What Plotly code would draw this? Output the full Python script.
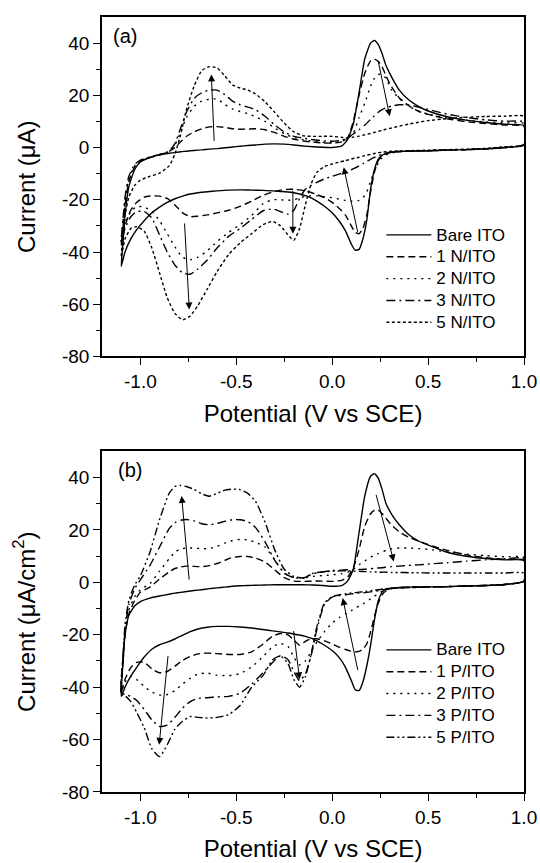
import plotly.graph_objects as go

# ---------------- data ----------------
# potential grid, forward (upper) branch and reverse (lower) branch, V vs SCE
E_UP = [-1.10, -1.09, -1.08, -1.06, -1.03, -1.00, -0.95, -0.90, -0.85, -0.82,
        -0.79, -0.76, -0.72, -0.68, -0.64, -0.60, -0.56, -0.52, -0.48, -0.44,
        -0.40, -0.35, -0.30, -0.25, -0.20, -0.15, -0.10, -0.05, 0.00, 0.05,
        0.08, 0.11, 0.14, 0.17, 0.20, 0.22, 0.24, 0.26, 0.28, 0.31,
        0.35, 0.40, 0.45, 0.50, 0.60, 0.70, 0.80, 0.90, 1.00]
E_DOWN = [1.00, 0.90, 0.80, 0.70, 0.60, 0.50, 0.40, 0.35, 0.31, 0.28,
          0.26, 0.24, 0.22, 0.20, 0.18, 0.16, 0.14, 0.12, 0.10, 0.07,
          0.04, 0.00, -0.04, -0.08, -0.11, -0.14, -0.17, -0.20, -0.23, -0.27,
          -0.31, -0.36, -0.42, -0.48, -0.54, -0.60, -0.65, -0.70, -0.74, -0.78,
          -0.82, -0.86, -0.90, -0.94, -0.98, -1.02, -1.05, -1.08, -1.10]

# ---- panel (a): current in uA ----
a_bare_up = [-45.5, -36, -26, -15, -8.5, -5.5, -3.8, -2.8, -2.2, -1.9,
             -1.6, -1.4, -1.1, -0.9, -0.6, -0.4, -0.1, 0.2, 0.5, 0.8,
             1.0, 1.3, 1.4, 1.3, 1.0, 0.6, 0.3, 0.1, 0.0, 0.6,
             3.0, 9.0, 21.0, 34.0, 40.0, 41.0, 39.5, 36.0, 31.5, 27.0,
             22.0, 18.2, 15.8, 14.0, 11.8, 10.5, 9.6, 8.9, 8.4]
a_bare_down = [1.0, 0.0, -0.5, -0.8, -1.0, -1.2, -1.4, -1.5, -1.7, -2.2,
               -3.0, -4.5, -8.5, -16.0, -28.0, -35.0, -39.0, -39.3, -37.0, -32.0,
               -28.5, -25.0, -22.5, -20.5, -19.3, -18.4, -17.8, -17.3, -17.0, -16.8,
               -16.6, -16.4, -16.3, -16.2, -16.3, -16.6, -16.9, -17.3, -17.8, -18.6,
               -19.6, -21.0, -22.8, -25.0, -28.0, -31.5, -35.0, -40.0, -45.5]

a_1n_up = [-38, -30, -22, -13, -7.5, -5.2, -3.8, -2.8, -1.5, 0.0,
           2.2, 4.3, 6.0, 7.2, 7.9, 8.0, 7.7, 7.2, 7.0, 7.1,
           7.2, 6.8, 5.8, 4.3, 3.2, 2.5, 2.1, 1.8, 1.7, 2.2,
           3.6, 10.0, 20.0, 28.5, 33.2, 33.9, 33.0, 31.0, 27.5, 23.2,
           19.0, 16.0, 13.9, 12.7, 11.0, 9.9, 9.2, 8.6, 8.2]
a_1n_down = [1.0, 0.0, -0.5, -0.8, -1.0, -1.2, -1.4, -1.5, -1.8, -2.3,
             -3.2, -5.0, -9.5, -17.0, -26.0, -31.0, -33.0, -32.5, -30.0, -26.0,
             -23.5, -21.0, -19.2, -18.0, -17.2, -16.6, -16.2, -16.0, -16.0, -16.3,
             -17.0, -18.3, -20.5, -22.5, -24.0, -25.0, -25.8, -26.3, -26.5, -25.0,
             -22.0, -19.5, -18.6, -18.5, -19.0, -21.0, -24.0, -30.0, -38.0]

a_2n_up = [-36, -28, -20, -12, -7, -5.0, -3.8, -2.8, -1.5, 1.0,
           6.0, 11.5, 15.8, 17.8, 18.5, 18.6, 16.5, 14.8, 13.8, 13.0,
           11.8, 10.0, 7.5, 5.3, 3.8, 3.0, 2.4, 2.0, 1.9, 2.4,
           3.4, 5.5, 11.5, 17.0, 23.5, 26.5, 28.0, 28.0, 26.5, 22.0,
           18.8, 15.8, 14.0, 12.8, 11.3, 10.4, 9.8, 9.4, 9.2]
a_2n_down = [1.0, 0.0, -0.5, -0.8, -1.0, -1.2, -1.4, -1.6, -2.0, -2.8,
             -4.0, -6.0, -9.0, -13.0, -17.0, -19.3, -20.2, -20.5, -20.5, -20.3,
             -19.8, -19.2, -18.8, -18.5, -18.5, -18.7, -19.3, -20.0, -20.2, -20.0,
             -20.0, -21.5, -26.0, -29.5, -32.5, -36.0, -39.5, -42.0, -43.0, -42.0,
             -38.0, -33.0, -28.0, -24.5, -22.8, -22.6, -24.5, -29.0, -36.0]

a_3n_up = [-36, -27, -19, -11, -6.5, -4.8, -3.6, -2.6, -1.4, 1.5,
           7.5, 13.5, 18.8, 21.0, 22.0, 22.0, 20.3, 17.8, 16.4, 15.5,
           14.5, 12.0, 8.7, 6.0, 4.3, 3.6, 3.0, 2.6, 2.4, 2.8,
           3.8, 5.2, 6.8, 8.6, 10.8, 12.2, 13.5, 14.5, 15.2, 15.9,
           16.4, 16.3, 15.5, 14.6, 12.8, 11.5, 10.6, 10.1, 9.8]
a_3n_down = [1.0, 0.0, -0.5, -0.8, -1.0, -1.2, -1.4, -1.5, -1.8, -2.2,
             -2.6, -3.2, -3.8, -4.5, -5.3, -6.2, -7.0, -7.8, -8.5, -9.4,
             -10.1, -11.0, -12.0, -13.3, -14.5, -16.0, -19.5, -24.0, -25.5, -24.5,
             -23.5, -24.2, -27.5, -31.0, -34.0, -38.5, -43.0, -46.5, -48.5, -48.0,
             -45.0, -40.0, -33.5, -27.0, -24.5, -24.5, -26.5, -31.0, -36.0]

a_5n_up = [-42, -33, -26, -19, -14.5, -12.5, -11.0, -9.8, -7.0, -2.5,
           5.0, 14.5, 23.5, 29.5, 31.0, 30.5, 27.5, 24.0, 22.8, 22.0,
           20.5, 17.5, 13.5, 9.4, 6.0, 4.5, 4.3, 4.3, 4.3, 3.9,
           3.8, 4.0, 4.4, 4.9, 5.4, 5.8, 6.2, 6.6, 7.0, 7.5,
           8.2, 9.0, 9.7, 10.3, 11.1, 11.6, 11.9, 12.0, 12.0]
a_5n_down = [1.2, 0.3, -0.3, -0.6, -0.8, -1.0, -1.2, -1.3, -1.4, -1.6,
             -1.8, -2.0, -2.3, -2.6, -2.9, -3.3, -3.7, -4.0, -4.4, -5.0,
             -5.5, -6.3, -7.3, -9.5, -14.0, -22.0, -31.0, -35.5, -33.5, -30.0,
             -28.3, -29.5, -33.0, -36.5, -41.0, -47.5, -54.0, -60.5, -64.5, -66.0,
             -63.5, -57.5, -48.0, -38.5, -32.0, -30.3, -31.0, -35.0, -42.0]

# ---- panel (b): current density in uA/cm2 ----
b_bare_up = [-43.5, -30, -20, -12.5, -9.0, -7.3, -6.0, -5.2, -4.5, -4.1,
             -3.8, -3.5, -3.1, -2.8, -2.4, -2.1, -1.8, -1.5, -1.3, -1.2,
             -1.1, -1.0, -0.9, -0.9, -0.9, -0.9, -1.0, -1.2, -1.5, -1.2,
             0.5, 5.0, 19.0, 33.0, 40.5, 41.5, 39.8, 35.5, 30.2, 26.0,
             22.0, 18.2, 15.8, 14.3, 11.5, 10.0, 9.1, 8.6, 8.4]
b_bare_down = [0.5, -0.8, -1.2, -1.4, -1.6, -1.7, -1.8, -1.9, -2.1, -2.6,
               -3.8, -7.0, -14.5, -24.0, -32.0, -38.0, -41.3, -41.0, -37.5, -32.5,
               -29.0, -26.0, -24.0, -22.3, -21.3, -20.6, -20.1, -19.7, -19.3, -18.9,
               -18.5, -18.0, -17.4, -17.0, -16.8, -16.8, -17.1, -17.8, -18.8, -20.2,
               -21.6, -22.8, -23.8, -25.5, -28.5, -32.5, -35.8, -40.0, -43.5]

b_1p_up = [-42, -30, -20, -12, -7.0, -3.8, -1.8, 1.3, 4.0, 5.3,
           5.9, 6.2, 6.1, 6.0, 6.4, 7.2, 8.4, 9.5, 9.9, 9.9,
           9.3, 7.8, 4.8, 1.8, 0.5, 0.4, 0.5, 0.5, 0.4, 0.8,
           2.0, 5.5, 12.5, 21.5, 26.2, 27.5, 27.6, 26.3, 24.5, 21.8,
           19.3, 17.2, 15.8, 14.4, 12.2, 10.5, 9.4, 8.8, 8.5]
b_1p_down = [0.5, -0.8, -1.2, -1.4, -1.6, -1.7, -1.8, -2.0, -2.4, -3.3,
             -4.8, -8.0, -13.0, -19.0, -23.5, -25.5, -26.3, -26.5, -26.3, -25.6,
             -24.8, -23.5, -22.3, -21.5, -21.5, -22.5, -24.0, -22.0, -20.0, -19.5,
             -20.5, -23.5, -26.5, -27.5, -27.5, -27.2, -27.0, -27.3, -28.3, -29.8,
             -32.0, -34.0, -34.5, -33.0, -30.5, -30.5, -32.5, -37.0, -42.0]

b_2p_up = [-42, -29, -19, -10.5, -5.5, -2.8, -0.5, 4.3, 9.0, 11.5,
           12.8, 13.1, 13.1, 12.9, 12.9, 13.8, 15.0, 16.0, 16.4, 16.2,
           15.3, 13.5, 8.7, 3.6, 1.9, 1.7, 2.3, 2.6, 2.9, 3.3,
           3.8, 5.0, 6.7, 8.2, 9.6, 10.4, 11.0, 11.6, 12.2, 12.8,
           13.1, 13.1, 12.9, 12.6, 11.6, 10.8, 10.2, 9.8, 9.5]
b_2p_down = [0.5, -0.8, -1.2, -1.4, -1.6, -1.7, -1.8, -2.0, -2.3, -2.8,
             -3.4, -4.3, -5.3, -6.3, -7.3, -8.2, -9.0, -9.8, -10.8, -12.0,
             -13.3, -15.5, -18.8, -22.8, -26.5, -30.0, -31.5, -28.5, -24.5, -23.3,
             -24.5, -28.3, -32.3, -34.8, -35.6, -35.4, -34.6, -35.0, -36.6, -38.8,
             -41.3, -42.8, -43.0, -41.8, -39.8, -37.0, -36.0, -38.0, -42.0]

b_3p_up = [-42, -28, -18, -8.5, -2.5, 1.0, 6.5, 13.5, 20.5, 22.8,
           23.7, 24.0, 23.5, 22.4, 22.0, 22.5, 23.3, 23.9, 23.9, 23.2,
           21.0, 15.5, 8.5, 3.5, 1.8, 1.7, 3.3, 4.0, 4.5, 4.7,
           4.8, 4.8, 4.9, 5.0, 5.2, 5.4, 5.5, 5.6, 5.8, 6.0,
           6.2, 6.5, 6.7, 7.0, 7.5, 8.1, 8.6, 9.0, 9.2]
b_3p_down = [0.5, -0.8, -1.2, -1.4, -1.6, -1.8, -2.0, -2.1, -2.3, -2.6,
             -2.9, -3.2, -3.4, -3.6, -3.8, -4.0, -4.1, -4.3, -4.4, -4.7,
             -5.0, -5.6, -8.3, -18.0, -28.0, -35.0, -37.5, -34.0, -29.5, -28.0,
             -30.5, -34.5, -38.8, -42.3, -43.5, -43.7, -44.0, -44.3, -45.5, -48.0,
             -51.5, -54.5, -55.0, -52.5, -48.5, -45.0, -43.5, -42.8, -42.0]

b_5p_up = [-43, -28, -16, -7.0, -1.0, 2.5, 11.5, 24.0, 34.0, 36.6,
           37.0, 36.6, 35.5, 33.8, 32.9, 34.0, 35.2, 35.6, 35.4, 34.0,
           31.0, 23.0, 12.5, 5.0, 2.3, 1.7, 3.5, 4.0, 4.3, 4.4,
           4.4, 4.3, 4.2, 4.1, 4.0, 4.0, 3.9, 3.9, 3.9, 3.8,
           3.8, 3.7, 3.7, 3.6, 3.6, 3.6, 3.6, 3.6, 3.6]
b_5p_down = [0.5, -0.8, -1.2, -1.4, -1.6, -1.8, -2.0, -2.1, -2.2, -2.4,
             -2.6, -2.8, -3.0, -3.2, -3.4, -3.6, -3.7, -3.9, -4.0, -4.3,
             -4.7, -5.5, -7.8, -17.0, -27.5, -36.0, -40.0, -37.0, -31.0, -28.0,
             -29.5, -35.5, -40.0, -47.0, -50.5, -51.5, -51.8, -51.5, -51.2, -53.0,
             -56.0, -62.0, -66.5, -63.5, -55.5, -49.5, -45.5, -43.3, -43.0]

NAMES_A = ["Bare ITO", "1 N/ITO", "2 N/ITO", "3 N/ITO", "5 N/ITO"]
NAMES_B = ["Bare ITO", "1 P/ITO", "2 P/ITO", "3 P/ITO", "5 P/ITO"]

# arrows: (tail E, tail I, head E, head I)
ARROWS_A = [(-0.615, 2.0, -0.63, 28.0), (-0.77, -28.5, -0.745, -62.0),
            (-0.205, -16.0, -0.205, -33.0), (0.135, -33.0, 0.06, -7.5),
            (0.239, 33.5, 0.30, 12.0)]
ARROWS_B = [(-0.745, 0.5, -0.785, 33.0), (-0.855, -27.5, -0.902, -62.0),
            (-0.202, -18.0, -0.17, -37.0), (0.135, -34.0, 0.055, -6.0),
            (0.227, 34.0, 0.321, 8.0)]

XTICKS = [-1.0, -0.5, 0.0, 0.5, 1.0]
XTICKTEXT = ["-1.0", "-0.5", "0.0", "0.5", "1.0"]
YTICKS = [-80, -60, -40, -20, 0, 20, 40]
YTICKTEXT = ["-80", "-60", "-40", "-20", "0", "20", "40"]

# ---------------- figure ----------------
FONT = "Liberation Sans, Arial, Helvetica, sans-serif"
DASHES = ["solid", "7px,4px", "2px,5px", "9px,4px,2px,4px"]
DASH_5N = "3px,2.5px"
DASH_5P = "8px,3px,2px,3px,2px,3px"
LEGEND_TEXT_PX = 17


def legend_label(name):
    return '<span style="font-size:%dpx">%s</span>' % (LEGEND_TEXT_PX, name)


fig = go.Figure()

series_a = [(a_bare_up, a_bare_down), (a_1n_up, a_1n_down), (a_2n_up, a_2n_down),
            (a_3n_up, a_3n_down), (a_5n_up, a_5n_down)]
series_b = [(b_bare_up, b_bare_down), (b_1p_up, b_1p_down), (b_2p_up, b_2p_down),
            (b_3p_up, b_3p_down), (b_5p_up, b_5p_down)]

for i, (up, down) in enumerate(series_a):
    dash = DASHES[i] if i < 4 else DASH_5N
    fig.add_trace(go.Scatter(
        x=E_UP + E_DOWN, y=up + down, mode="lines", name=legend_label(NAMES_A[i]),
        line=dict(color="black", width=1.4, dash=dash, shape="spline", smoothing=0.5),
        xaxis="x", yaxis="y", legend="legend"))

for i, (up, down) in enumerate(series_b):
    dash = DASHES[i] if i < 4 else DASH_5P
    fig.add_trace(go.Scatter(
        x=E_UP + E_DOWN, y=up + down, mode="lines", name=legend_label(NAMES_B[i]),
        line=dict(color="black", width=1.4, dash=dash, shape="spline", smoothing=0.5),
        xaxis="x2", yaxis="y2", legend="legend2"))

annotations = []
for (xr, yr, arrows) in [("x", "y", ARROWS_A), ("x2", "y2", ARROWS_B)]:
    for (tx, ty, hx, hy) in arrows:
        annotations.append(dict(
            x=hx, y=hy, ax=tx, ay=ty, xref=xr, yref=yr, axref=xr, ayref=yr,
            text="", showarrow=True, arrowhead=2, arrowsize=1.4, arrowwidth=1,
            arrowcolor="black"))

annotations.append(dict(text="(a)", x=0.022, y=0.945, xref="x domain", yref="y domain",
                        xanchor="left", yanchor="middle", showarrow=False,
                        font=dict(size=20, color="black", family=FONT)))
annotations.append(dict(text="(b)", x=0.033, y=0.945, xref="x2 domain", yref="y2 domain",
                        xanchor="left", yanchor="middle", showarrow=False,
                        font=dict(size=20, color="black", family=FONT)))


def xaxis_cfg(anchor):
    return dict(
        domain=[0, 1], anchor=anchor, range=[-1.2, 1.0],
        tickmode="array", tickvals=XTICKS, ticktext=XTICKTEXT,
        ticks="outside", ticklen=7, tickwidth=1.3, tickcolor="black",
        minor=dict(tickvals=[-0.75, -0.25, 0.25, 0.75], ticks="outside",
                   ticklen=4, tickwidth=1.3, tickcolor="black"),
        showline=True, linewidth=1.5, linecolor="black", mirror=True,
        showgrid=False, zeroline=False,
        tickfont=dict(size=19, color="black", family=FONT),
        title=dict(text="Potential (V vs SCE)", standoff=14,
                   font=dict(size=24, color="black", family=FONT)))


def yaxis_cfg(anchor, domain, title):
    return dict(
        domain=domain, anchor=anchor, range=[-80, 50],
        tickmode="array", tickvals=YTICKS, ticktext=YTICKTEXT,
        ticks="outside", ticklen=7, tickwidth=1.3, tickcolor="black",
        minor=dict(tickvals=[-70, -50, -30, -10, 10, 30], ticks="outside",
                   ticklen=4, tickwidth=1.3, tickcolor="black"),
        showline=True, linewidth=1.5, linecolor="black", mirror=True,
        showgrid=False, zeroline=False,
        tickfont=dict(size=19, color="black", family=FONT),
        title=dict(text=title, standoff=20,
                   font=dict(size=24, color="black", family=FONT)))


legend_common = dict(
    xref="paper", yref="paper", xanchor="left", yanchor="top",
    bgcolor="rgba(0,0,0,0)", borderwidth=0, itemwidth=45,
    font=dict(size=14.5, color="black", family=FONT), tracegroupgap=0)

fig.update_layout(
    width=540, height=863,
    margin=dict(l=102, r=16, t=17, b=71, autoexpand=False),
    paper_bgcolor="white", plot_bgcolor="white",
    font=dict(family=FONT, color="black"),
    xaxis=xaxis_cfg("y"),
    yaxis=yaxis_cfg("x", [0.562, 1.0], "Current (μA)"),
    xaxis2=xaxis_cfg("y2"),
    yaxis2=yaxis_cfg("x2", [0.0, 0.4395], "Current (μA/cm<sup>2</sup>)"),
    legend=dict(x=0.662, y=0.7394, **legend_common),
    legend2=dict(x=0.662, y=0.204, **legend_common),
    annotations=annotations,
    showlegend=True,
)

fig.write_html("out.html")
